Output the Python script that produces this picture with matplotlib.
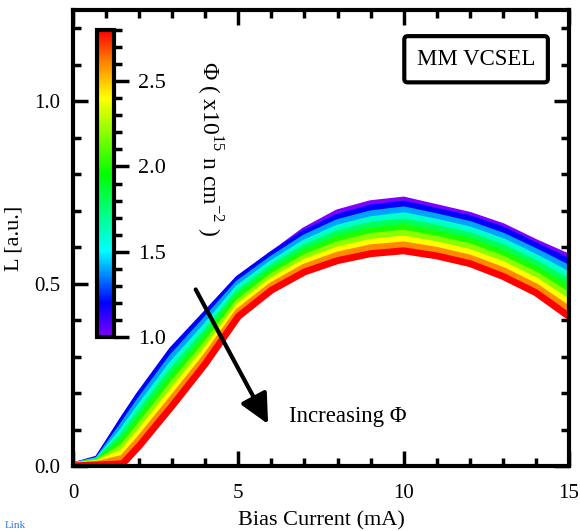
import matplotlib
matplotlib.use("Agg")
import matplotlib.pyplot as plt
from matplotlib.colors import LinearSegmentedColormap, Normalize
from matplotlib.cm import ScalarMappable
from matplotlib.ticker import MultipleLocator

plt.rcParams["font.family"] = ["Liberation Serif", "DejaVu Serif"]
plt.rcParams["mathtext.fontset"] = "custom"
plt.rcParams["mathtext.rm"] = "Liberation Serif"

# bias current (mA)
current = [0, 0.75, 1.5, 2, 3, 4, 5, 6, 7, 8, 9, 10, 11, 12, 13, 14, 15]

# fluence values (x1e15 n/cm^2) and light output curves (a.u.)
fluence = [1.0, 1.2, 1.4, 1.6, 1.8, 2.0, 2.2, 2.4, 2.6, 2.8]
L_10 = [0, 0.020, 0.124, 0.192, 0.315, 0.412, 0.510, 0.578, 0.645, 0.694, 0.719, 0.729, 0.708, 0.687, 0.656, 0.612, 0.572]
L_12 = [0, 0.018, 0.126, 0.194, 0.318, 0.415, 0.513, 0.579, 0.638, 0.682, 0.707, 0.718, 0.698, 0.678, 0.647, 0.603, 0.560]
L_14 = [0, 0.016, 0.110, 0.176, 0.298, 0.398, 0.500, 0.566, 0.625, 0.667, 0.691, 0.702, 0.683, 0.662, 0.630, 0.587, 0.541]
L_16 = [0, 0.014, 0.095, 0.158, 0.279, 0.380, 0.487, 0.554, 0.611, 0.652, 0.675, 0.686, 0.668, 0.647, 0.615, 0.571, 0.523]
L_18 = [0, 0.012, 0.080, 0.141, 0.260, 0.363, 0.474, 0.542, 0.598, 0.637, 0.660, 0.669, 0.652, 0.631, 0.599, 0.555, 0.504]
L_20 = [0, 0.011, 0.066, 0.124, 0.241, 0.347, 0.461, 0.530, 0.584, 0.622, 0.644, 0.654, 0.636, 0.616, 0.583, 0.539, 0.485]
L_22 = [0, 0.009, 0.051, 0.107, 0.222, 0.330, 0.448, 0.518, 0.571, 0.607, 0.629, 0.638, 0.621, 0.601, 0.567, 0.523, 0.466]
L_24 = [0, 0.007, 0.036, 0.089, 0.203, 0.313, 0.436, 0.506, 0.558, 0.592, 0.613, 0.622, 0.606, 0.585, 0.552, 0.507, 0.447]
L_26 = [0, 0.005, 0.021, 0.072, 0.184, 0.297, 0.423, 0.494, 0.545, 0.578, 0.598, 0.606, 0.591, 0.570, 0.536, 0.491, 0.429]
L_28 = [0, 0.003, 0.006, 0.055, 0.165, 0.280, 0.410, 0.482, 0.532, 0.563, 0.582, 0.590, 0.576, 0.555, 0.520, 0.475, 0.410]
curves = [L_10, L_12, L_14, L_16, L_18, L_20, L_22, L_24, L_26, L_28]

cmap = LinearSegmentedColormap.from_list(
    "fluence",
    [(0.0, "#8000ff"), (0.11, "#0000ff"), (0.28, "#00ffff"),
     (0.53, "#00ff00"), (0.78, "#ffff00"), (0.9, "#ff8000"), (1.0, "#ff0000")],
)
norm = Normalize(vmin=1.0, vmax=2.8)

fig = plt.figure(figsize=(5.8, 5.31), dpi=100)
ax = fig.add_axes([73 / 580, 65 / 531, 496 / 580, 456 / 531])

for phi, L in zip(fluence, curves):
    ax.plot(current, L, color=cmap(norm(phi)), lw=5, solid_joinstyle="round")

ax.set_xlim(0, 15)
ax.set_ylim(0, 1.25)
ax.xaxis.set_major_locator(MultipleLocator(5))
ax.xaxis.set_minor_locator(MultipleLocator(1))
ax.yaxis.set_major_locator(MultipleLocator(0.5))
ax.yaxis.set_minor_locator(MultipleLocator(0.1))
ax.yaxis.set_major_formatter(lambda v, p: f"{v:.1f}")
ax.tick_params(which="both", direction="in", top=True, right=True, width=2.5, labelsize=15)
ax.tick_params(axis="x", pad=13)
ax.tick_params(axis="y", pad=9)
ax.tick_params(which="major", length=10.5)
ax.tick_params(which="minor", length=5.5)
for s in ax.spines.values():
    s.set_linewidth(3)

ax.set_xlabel("Bias Current (mA)", fontsize=16)
ax.xaxis.set_label_coords(0.5, -0.1)
ax.set_ylabel("L [a.u.]", fontsize=16)
ax.yaxis.set_label_coords(-0.1, 0.5)

ax.text(12.19, 1.115, "MM VCSEL", fontsize=16.5, ha="center", va="center",
        bbox=dict(boxstyle="round,pad=0.55,rounding_size=0.15", fc="white", ec="black", lw=3))

ax.annotate("", xy=(5.9, 0.115), xytext=(3.71, 0.484),
            arrowprops=dict(arrowstyle="-|>,head_length=0.45,head_width=0.22",
                            mutation_scale=40, lw=3, color="black", shrinkA=0, shrinkB=0))
ax.text(6.53, 0.137, "Increasing Φ", fontsize=16.5, ha="left", va="center")

ax.text(4.12, 0.87, r"Φ ( x10$^{15}$ n cm$^{-2}$ )", fontsize=17, rotation=-90,
        ha="center", va="center")

# colorbar inset
cax = fig.add_axes([97 / 580, 1 - 337 / 531, 17 / 580, 307 / 531])
cb = fig.colorbar(ScalarMappable(norm=norm, cmap=cmap), cax=cax)
cb.outline.set_linewidth(3)
cb.set_ticks([1.0, 1.5, 2.0, 2.5])
cb.ax.yaxis.set_minor_locator(MultipleLocator(0.1))
cb.ax.tick_params(which="both", direction="out", width=2.5, labelsize=16, pad=6)
cb.ax.tick_params(which="major", length=11)
cb.ax.tick_params(which="minor", length=5.5)

fig.text(0.008, 0.002, "Link", color="#2a7ae2", fontsize=8, va="bottom")

fig.savefig("out.png", dpi=100)
